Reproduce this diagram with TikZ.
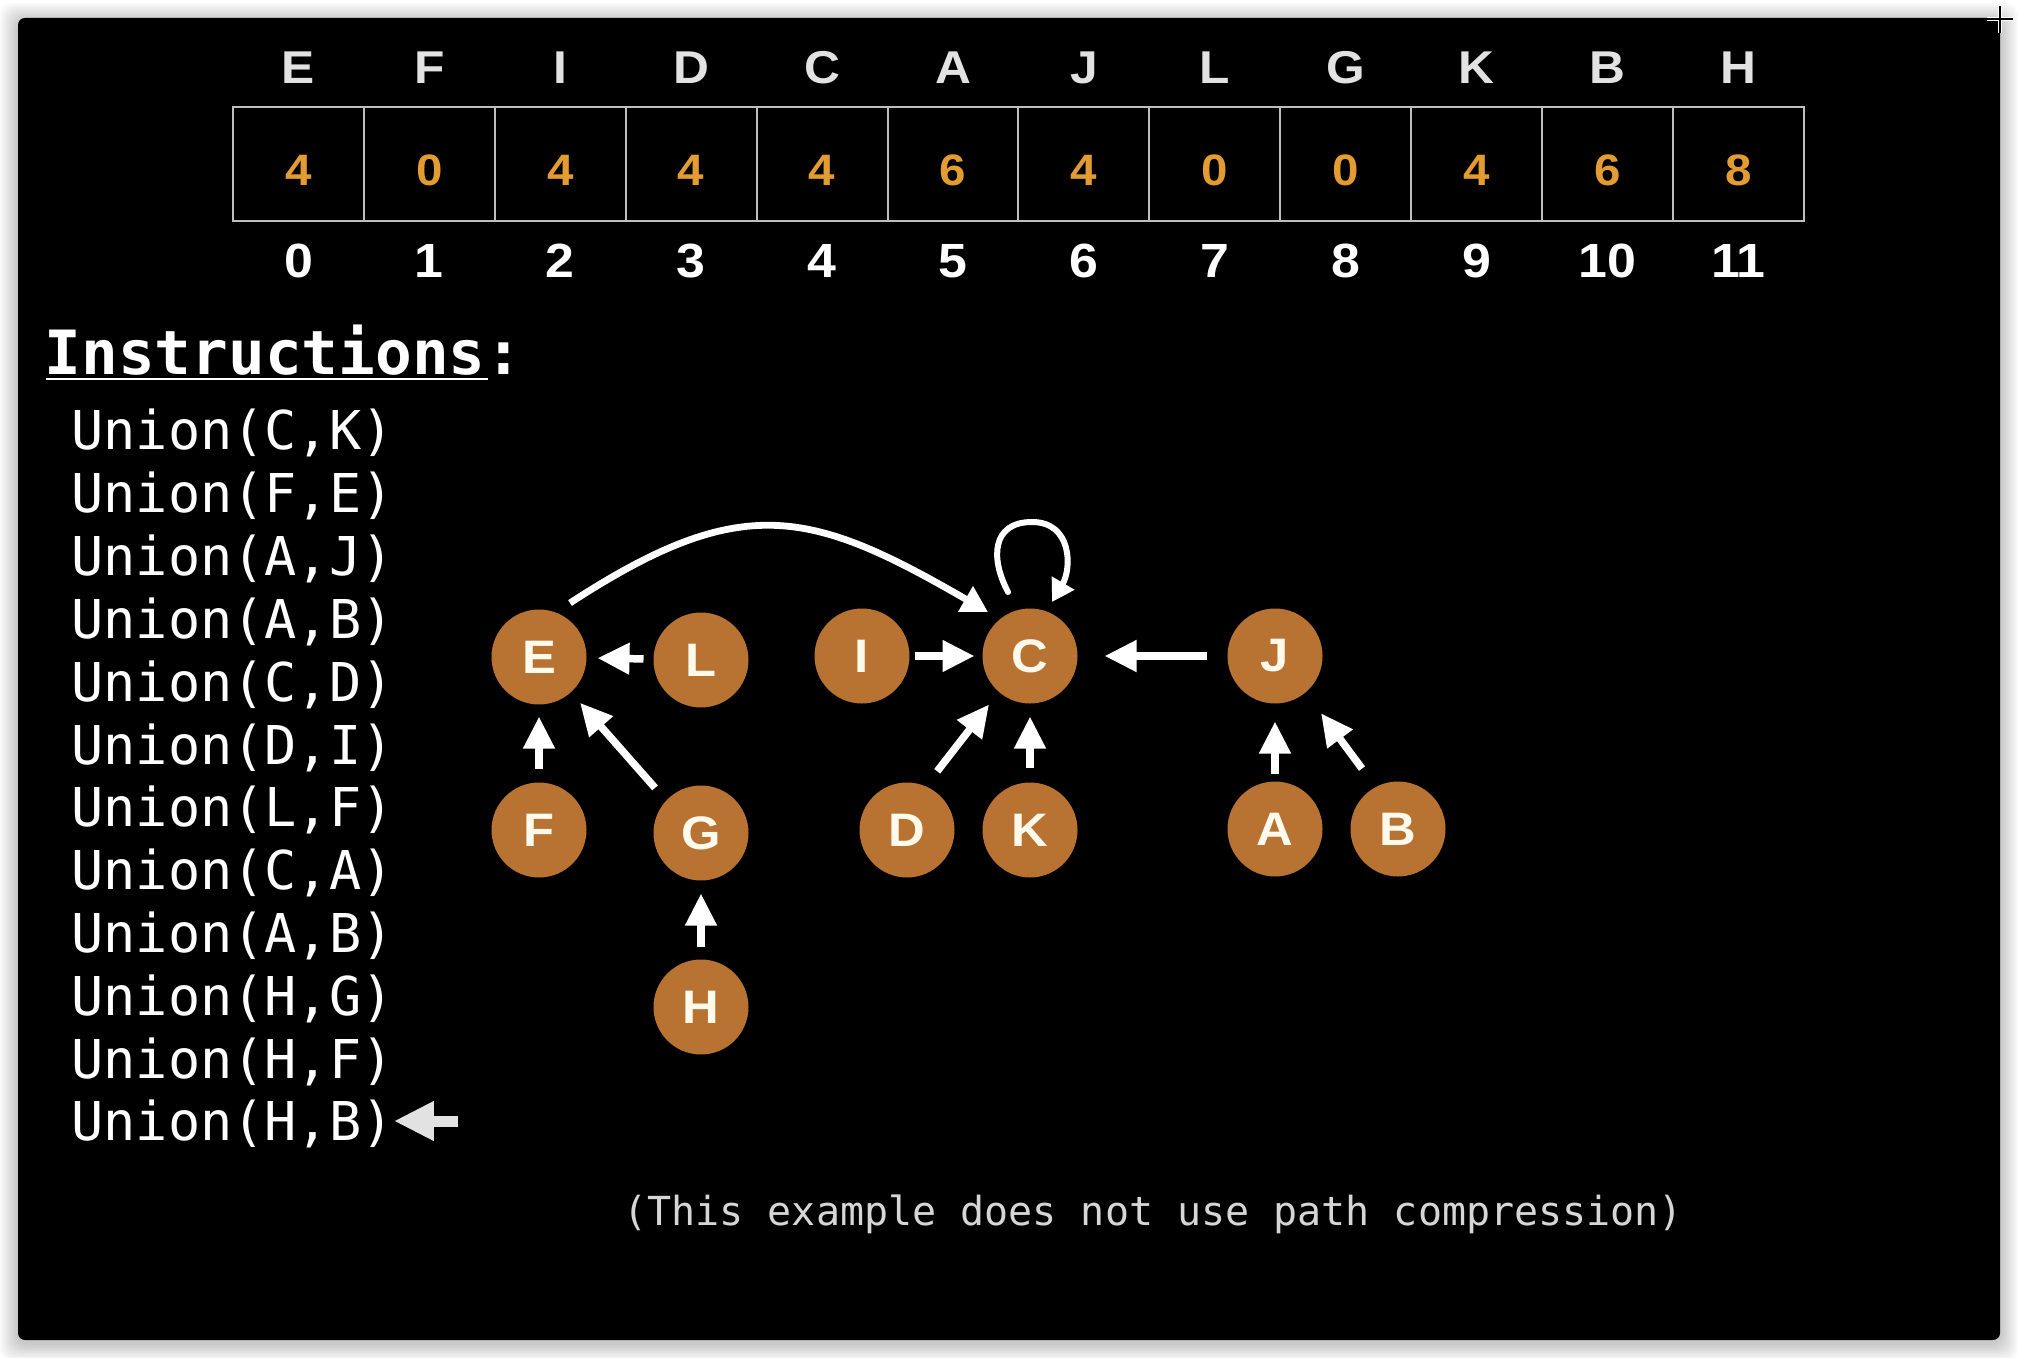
\documentclass[tikz,border=0pt]{standalone}
\usepackage{fontspec}
\setmainfont{Liberation Sans}
\newfontfamily\tabfont{Liberation Sans}[FakeStretch=1.08]
\newfontfamily\codefont{DejaVu Sans Mono}
\usetikzlibrary{arrows.meta,calc}

\definecolor{copper}{RGB}{184,115,50}
\definecolor{rankorange}{RGB}{226,156,50}
\definecolor{headgray}{RGB}{226,226,226}
\definecolor{gridgray}{RGB}{190,190,190}
\definecolor{nodetext}{RGB}{255,250,236}
\definecolor{notegray}{RGB}{214,214,214}
\definecolor{ptrgray}{RGB}{226,226,226}

\begin{document}
\begin{tikzpicture}[x=0.5pt,y=-0.5pt,
  vert/.style={circle, fill=copper, minimum size=47.5pt, inner sep=0pt, outer sep=0pt,
    text=nodetext, font=\tabfont\bfseries\fontsize{23.5pt}{23.5pt}\selectfont},
  link/.style={draw=white, line width=3.75pt, -{Triangle[length=16pt,width=15pt]}},
  curvelink/.style={draw=white, line width=3.4pt, -{Triangle[length=13pt,width=14pt]}},
  looplink/.style={draw=white, line width=3pt, line cap=round, -{Triangle[length=11pt,width=12.5pt]}},
  ptr/.style={draw=ptrgray, line width=5.5pt, -{Triangle[length=20pt,width=18.5pt]}},
  hdr/.style={anchor=base, inner sep=0pt, text=headgray, font=\tabfont\bfseries\fontsize{23pt}{23pt}\selectfont},
  rank/.style={anchor=base, inner sep=0pt, text=rankorange, font=\tabfont\bfseries\fontsize{22pt}{22pt}\selectfont},
  idx/.style={anchor=base, inner sep=0pt, text=white, font=\tabfont\bfseries\fontsize{24pt}{24pt}\selectfont},
  codeline/.style={anchor=base west, inner sep=0pt, text=white, font=\codefont\fontsize{26.75pt}{26.75pt}\selectfont},
]
\useasboundingbox (0,0) rectangle (2018,1358);
\fill[white] (0,0) rectangle (2018,1358);

% soft shadow round the slide
\foreach \s in {1,...,9}
  \fill[black, opacity=0.022, rounded corners=6pt]
    (18-\s*2, 18-\s*2+3) rectangle (2000+\s*2, 1340+\s*2+3);
\fill[black, rounded corners=3.5pt] (18,18) rectangle (2000,1340);

% cursor cross at the corner
\draw[white, line width=2pt] (1987,19) -- (2013,19) (2000,6) -- (2000,33);
\draw[black, line width=0.6pt] (1987,19) -- (2013,19) (2000,6) -- (2000,33);

% rank table
\draw[gridgray, line width=1pt] (233,107) rectangle (1804,221);
\foreach \i in {1,...,11}
  \draw[gridgray, line width=1pt] (233+130.9*\i,107) -- (233+130.9*\i,221);
\foreach \name/\r [count=\i from 0] in {E/4,F/0,I/4,D/4,C/4,A/6,J/4,L/0,G/0,K/4,B/6,H/8} {
  \node[hdr]  (h\i) at (298.5+130.9*\i, 84)  {\name};
  \node[rank] (r\i) at (298.5+130.9*\i, 186) {\r};
  \node[idx]  (n\i) at (298.5+130.9*\i, 278) {\i};
}

% instruction list
\node[anchor=base west, inner sep=0pt, text=white,
      font=\codefont\bfseries\fontsize{30.5pt}{30.5pt}\selectfont] (instr) at (44.4,375) {Instructions:};
\draw[white, line width=1.3pt] ($(instr.base west)+(2,4)$) -- ++(442,0);
\foreach \a/\b [count=\k from 0] in {C/K,F/E,A/J,A/B,C/D,D/I,L/F,C/A,A/B,H/G,H/F,H/B}
  \node[codeline] (u\k) at (71, 450+62.8*\k) {Union(\a,\b)};
\coordinate (ptrtail) at (458,1121);
\draw[ptr] (ptrtail) -- (ptrtail -| u11.east);

% forest
\node[vert] (E) at (539,657)  {E};
\node[vert] (L) at (701,660)  {L};
\node[vert] (I) at (862,656)  {I};
\node[vert] (C) at (1030,656) {C};
\node[vert] (J) at (1275,656) {J};
\node[vert] (F) at (539,830)  {F};
\node[vert] (G) at (701,833)  {G};
\node[vert] (D) at (907,830)  {D};
\node[vert] (K) at (1030,830) {K};
\node[vert] (A) at (1275,829) {A};
\node[vert] (B) at (1398,829) {B};
\node[vert] (H) at (701,1007) {H};

\draw[link, shorten <=5pt,   shorten >=5.5pt]  (L) -- (E);
\draw[link, shorten <=2.5pt, shorten >=4pt]    (I) -- (C);
\draw[link, shorten <=10.5pt,shorten >=13.5pt] (J) -- (C);
\draw[link, shorten <=7pt,   shorten >=6pt]    (F) -- (E);
\draw[link, shorten <=7.5pt, shorten >=6.5pt]  (K) -- (C);
\draw[link, shorten <=4pt,   shorten >=9pt]    (A) -- (J);
\draw[link, shorten <=6.5pt, shorten >=6.5pt]  (H) -- (G);
\draw[link, shorten <=8.5pt, shorten >=7pt]    (G.137) -- (E.312);
\draw[link, shorten <=9.5pt, shorten >=8pt]    (D.67) -- (C.229);
\draw[link, shorten <=11.5pt,shorten >=13pt]   (B.118) -- (J.310);

% root link from E over to C, and C pointing to itself
\draw[curvelink] ($(E)+(31,-54)$) .. controls (742,491) and (810,509) .. ($(C)+(-42,-44)$);
\draw[looplink] ($(C)+(-22,-64)$) .. controls ($(C)+(-40,-98)$) and ($(C)+(-38,-134)$) .. ($(C)+(2,-134)$)
                .. controls ($(C)+(42,-134)$) and ($(C)+(42,-88)$) .. ($(C)+(22,-54)$);

\node[anchor=base west, inner sep=0pt, text=notegray,
      font=\codefont\fontsize{20pt}{20pt}\selectfont] (note) at (623,1225)
      {(This example does not use path compression)};
\end{tikzpicture}
\end{document}
